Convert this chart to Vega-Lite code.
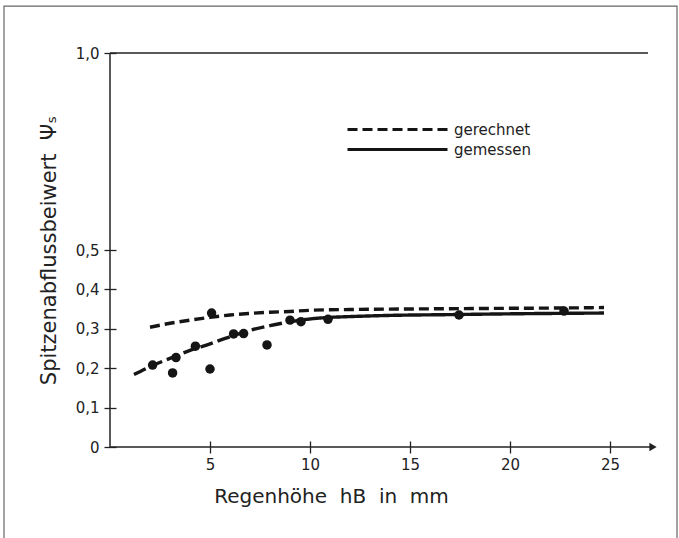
{
  "$schema": "https://vega.github.io/schema/vega-lite/v6.json",
  "width": 548,
  "height": 394,
  "autosize": {"type": "none"},
  "padding": {"left": 110, "top": 53, "right": 21, "bottom": 91},
  "background": "white",
  "config": {"view": {"stroke": null}, "font": "DejaVu Sans"},
  "datasets": {
    "curves": [
      {"x": 2.0, "y": 0.304, "s": "gerechnet"},
      {"x": 3.0, "y": 0.314, "s": "gerechnet"},
      {"x": 4.0, "y": 0.322, "s": "gerechnet"},
      {"x": 5.0, "y": 0.329, "s": "gerechnet"},
      {"x": 6.0, "y": 0.335, "s": "gerechnet"},
      {"x": 7.0, "y": 0.339, "s": "gerechnet"},
      {"x": 8.0, "y": 0.342, "s": "gerechnet"},
      {"x": 9.0, "y": 0.344, "s": "gerechnet"},
      {"x": 10.0, "y": 0.347, "s": "gerechnet"},
      {"x": 12.0, "y": 0.349, "s": "gerechnet"},
      {"x": 14.0, "y": 0.350, "s": "gerechnet"},
      {"x": 17.0, "y": 0.351, "s": "gerechnet"},
      {"x": 20.0, "y": 0.352, "s": "gerechnet"},
      {"x": 23.0, "y": 0.353, "s": "gerechnet"},
      {"x": 24.7, "y": 0.354, "s": "gerechnet"},
      {"x": 1.2, "y": 0.184, "s": "gemessen (Anfang)"},
      {"x": 2.13, "y": 0.207, "s": "gemessen (Anfang)"},
      {"x": 3.0, "y": 0.225, "s": "gemessen (Anfang)"},
      {"x": 4.0, "y": 0.245, "s": "gemessen (Anfang)"},
      {"x": 5.0, "y": 0.262, "s": "gemessen (Anfang)"},
      {"x": 6.0, "y": 0.280, "s": "gemessen (Anfang)"},
      {"x": 7.0, "y": 0.296, "s": "gemessen (Anfang)"},
      {"x": 8.0, "y": 0.308, "s": "gemessen (Anfang)"},
      {"x": 9.0, "y": 0.318, "s": "gemessen (Anfang)"},
      {"x": 9.0, "y": 0.318, "s": "gemessen"},
      {"x": 10.0, "y": 0.325, "s": "gemessen"},
      {"x": 11.0, "y": 0.329, "s": "gemessen"},
      {"x": 12.0, "y": 0.331, "s": "gemessen"},
      {"x": 14.0, "y": 0.334, "s": "gemessen"},
      {"x": 17.0, "y": 0.336, "s": "gemessen"},
      {"x": 20.0, "y": 0.338, "s": "gemessen"},
      {"x": 24.7, "y": 0.340, "s": "gemessen"}
    ],
    "points": [
      {"x": 2.13, "y": 0.208},
      {"x": 3.13, "y": 0.188},
      {"x": 3.3, "y": 0.227},
      {"x": 4.27, "y": 0.256},
      {"x": 5.0, "y": 0.198},
      {"x": 5.08, "y": 0.340},
      {"x": 6.18, "y": 0.287},
      {"x": 6.68, "y": 0.288},
      {"x": 7.85, "y": 0.259},
      {"x": 9.0, "y": 0.322},
      {"x": 9.55, "y": 0.318},
      {"x": 10.9, "y": 0.324},
      {"x": 17.45, "y": 0.335},
      {"x": 22.7, "y": 0.345}
    ],
    "one": [{}]
  },
  "layer": [
    {
      "data": {"name": "curves"},
      "mark": {"type": "line", "color": "#151515", "strokeWidth": 3.4, "interpolate": "monotone"},
      "encoding": {
        "x": {
          "field": "x", "type": "quantitative",
          "scale": {"domain": [0, 27.4], "nice": false, "zero": false},
          "axis": {
            "values": [5, 10, 15, 20, 25],
            "domain": false, "grid": false,
            "tickSize": 12, "offset": -6, "tickColor": "#222", "tickWidth": 1.3,
            "labelFontSize": 15, "labelColor": "#222", "labelPadding": 4,
            "title": "Regenhöhe\u00a0\u00a0hB\u00a0\u00a0in\u00a0\u00a0mm", "titleFontSize": 20, "titleFontWeight": "normal",
            "titleColor": "#222", "titleX": 221, "titleAlign": "center", "titlePadding": 14
          }
        },
        "y": {
          "field": "y", "type": "quantitative",
          "scale": {"domain": [0, 1], "nice": false},
          "axis": {
            "values": [0, 0.1, 0.2, 0.3, 0.4, 0.5, 1],
            "labelExpr": "datum.value == 0 ? '0' : replace(format(datum.value, '.1f'), '.', ',')",
            "domain": false, "grid": false,
            "tickSize": 12, "offset": -6, "tickColor": "#222", "tickWidth": 1.3,
            "labelFontSize": 15, "labelColor": "#222", "labelPadding": 5,
            "title": "Spitzenabflussbeiwert\u00a0\u00a0Ψₛ", "titleFontSize": 21, "titleFontWeight": "normal",
            "titleColor": "#222", "titlePadding": 16
          }
        },
        "strokeDash": {
          "field": "s", "type": "nominal",
          "scale": {"domain": ["gerechnet", "gemessen", "gemessen (Anfang)"], "range": [[10, 5], [1, 0], [13, 5]]},
          "legend": {
            "values": ["gerechnet", "gemessen"],
            "orient": "none", "legendX": 276, "legendY": 65,
            "title": null, "symbolType": "M-5,0H5", "symbolSize": 400,
            "symbolStrokeWidth": 3, "symbolStrokeColor": "#151515", "symbolFillColor": "transparent",
            "labelFontSize": 15, "labelColor": "#222", "labelOffset": 45, "rowPadding": -3
          }
        }
      }
    },
    {
      "data": {"name": "points"},
      "mark": {"type": "point", "filled": true, "shape": "circle", "size": 90, "color": "#151515", "opacity": 1},
      "encoding": {
        "x": {"field": "x", "type": "quantitative"},
        "y": {"field": "y", "type": "quantitative"}
      }
    },
    {
      "data": {"name": "one"},
      "mark": {"type": "rule", "color": "#222", "strokeWidth": 1.5},
      "encoding": {
        "x": {"datum": 0, "type": "quantitative"},
        "x2": {"datum": 27.1},
        "y": {"datum": 0, "type": "quantitative"}
      }
    },
    {
      "data": {"name": "one"},
      "mark": {"type": "rule", "color": "#222", "strokeWidth": 1.5},
      "encoding": {
        "x": {"datum": 0, "type": "quantitative"},
        "y": {"datum": 0, "type": "quantitative"},
        "y2": {"datum": 1}
      }
    },
    {
      "data": {"name": "one"},
      "mark": {"type": "rule", "color": "#222", "strokeWidth": 1.5},
      "encoding": {
        "x": {"datum": 0, "type": "quantitative"},
        "x2": {"datum": 26.9},
        "y": {"datum": 1, "type": "quantitative"}
      }
    },
    {
      "data": {"name": "one"},
      "mark": {"type": "point", "shape": "triangle-right", "filled": true, "size": 70, "color": "#222", "opacity": 1},
      "encoding": {
        "x": {"datum": 27.15, "type": "quantitative"},
        "y": {"datum": 0, "type": "quantitative"}
      }
    },
    {
      "data": {"name": "one"},
      "mark": {"type": "rect", "fill": null, "stroke": "#666", "strokeWidth": 1.2},
      "encoding": {
        "x": {"datum": -5.3, "type": "quantitative"},
        "x2": {"datum": 28.35},
        "y": {"datum": 1.119, "type": "quantitative"},
        "y2": {"datum": -0.25}
      }
    }
  ]
}
